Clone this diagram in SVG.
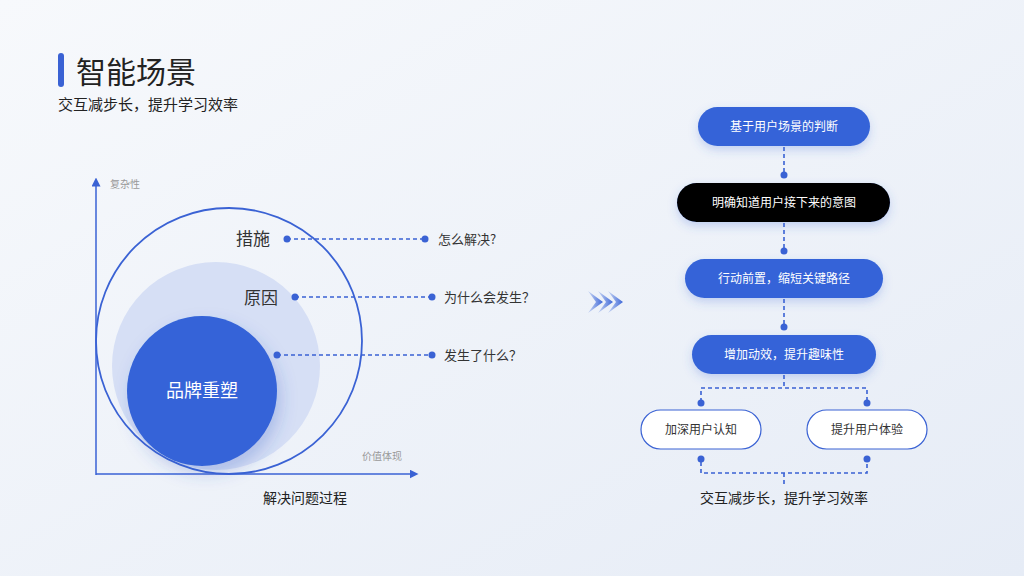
<svg xmlns="http://www.w3.org/2000/svg" width="1024" height="576" viewBox="0 0 1024 576">
<defs>
<linearGradient id="bg" x1="0" y1="0" x2="1" y2="1"><stop offset="0" stop-color="#f7f9fc"/><stop offset="1" stop-color="#e6ecf6"/></linearGradient>
<linearGradient id="chev" x1="0" x2="1"><stop offset="0" stop-color="#c9d6f3"/><stop offset="1" stop-color="#3d67d8"/></linearGradient>
<filter id="sh" x="-30%" y="-50%" width="160%" height="220%"><feDropShadow dx="0" dy="4" stdDeviation="5" flood-color="#3d67d8" flood-opacity="0.25"/></filter>
<filter id="sh2" x="-40%" y="-40%" width="180%" height="180%"><feDropShadow dx="4" dy="8" stdDeviation="8" flood-color="#3559c0" flood-opacity="0.25"/></filter>
<marker id="ar" viewBox="0 0 10 10" refX="5" refY="5" markerWidth="6" markerHeight="6" orient="auto"><path d="M0,0L10,5L0,10z" fill="#3a62d4"/></marker>
<style>
text{font-family:"Noto Sans CJK SC","Noto Sans",sans-serif}
.d{stroke:#3a62d4;stroke-width:1.6;stroke-dasharray:4 3;fill:none}
.dot{fill:#3a62d4}
.w{fill:#fff;font-size:12px;text-anchor:middle}
.q{fill:#333;font-size:13px}
.k{fill:#333;font-size:17px}
</style>
</defs>
<rect width="1024" height="576" fill="url(#bg)"/>
<rect x="58" y="53" width="6" height="34" rx="3" fill="#3a62d4"/>
<text x="76" y="83" font-size="30" fill="#222">智能场景</text>
<text x="58" y="110" font-size="15" fill="#222">交互减步长，提升学习效率</text>

<g id="axes">
<line x1="96" y1="475" x2="96" y2="182" stroke="#3a62d4" stroke-width="1.5" marker-end="url(#ar)"/>
<line x1="96" y1="474" x2="414" y2="474" stroke="#3a62d4" stroke-width="1.5" marker-end="url(#ar)"/>
<text x="110" y="188" font-size="10" fill="#999">复杂性</text>
<text x="362" y="460" font-size="10" fill="#999">价值体现</text>
<text x="263" y="503" font-size="14" fill="#222">解决问题过程</text>
</g>
<g id="circles">
<circle cx="216" cy="366" r="104" fill="#d6dff5"/>
<circle cx="229" cy="341" r="133" fill="none" stroke="#3a62d4" stroke-width="1.8"/>
<circle cx="202" cy="391" r="75" fill="#3464d8" filter="url(#sh2)"/>
<text x="202" y="397" font-size="18" fill="#fff" text-anchor="middle">品牌重塑</text>
<text x="236" y="245" class="k">措施</text>
<text x="244" y="304" class="k">原因</text>
</g>
<g id="connectors-left">
<path class="d" d="M287 239H425M295 297H432M277 355H432"/>
<circle class="dot" cx="287" cy="239" r="3.5"/><circle class="dot" cx="425" cy="239" r="3.5"/>
<circle class="dot" cx="295" cy="297" r="3.5"/><circle class="dot" cx="432" cy="297" r="3.5"/>
<circle class="dot" cx="277" cy="355" r="3.5"/><circle class="dot" cx="432" cy="355" r="3.5"/>
<text x="438" y="244" class="q">怎么解决?</text>
<text x="444" y="302" class="q">为什么会发生？</text>
<text x="444" y="360" class="q">发生了什么？</text>
</g>
<g id="chevron">
<path d="M588 291L603 302L588 313L596 302z" fill="url(#chev)"/>
<path d="M598 291L613 302L598 313L606 302z" fill="url(#chev)"/>
<path d="M608 291L623 302L608 313L616 302z" fill="url(#chev)"/>
</g>
<g id="connectors-right">
<path class="d" d="M784 147V175M784 223V251M784 299V327M784 375V388M701 402V388H867V402M701 462V473H867V462M784 473V486"/>
<circle class="dot" cx="784" cy="175" r="3.5"/><circle class="dot" cx="784" cy="251" r="3.5"/><circle class="dot" cx="784" cy="327" r="3.5"/>
<circle class="dot" cx="701" cy="403" r="3.5"/><circle class="dot" cx="867" cy="403" r="3.5"/>
<circle class="dot" cx="701" cy="459" r="3.5"/><circle class="dot" cx="867" cy="459" r="3.5"/>
</g>
<g id="n1"><rect x="698" y="107" width="172" height="39" rx="19.5" fill="#3464d8" filter="url(#sh)"/><text x="784" y="131" class="w">基于用户场景的判断</text></g>
<g id="n2"><rect x="677" y="183" width="213" height="39" rx="19.5" fill="#000" filter="url(#sh)"/><text x="784" y="207" class="w">明确知道用户接下来的意图</text></g>
<g id="n3"><rect x="685" y="259" width="198" height="39" rx="19.5" fill="#3464d8" filter="url(#sh)"/><text x="784" y="283" class="w">行动前置，缩短关键路径</text></g>
<g id="n4"><rect x="692" y="335" width="184" height="39" rx="19.5" fill="#3464d8" filter="url(#sh)"/><text x="784" y="359" class="w">增加动效，提升趣味性</text></g>
<g id="n5"><rect x="641" y="410" width="120" height="39" rx="19.5" fill="#fff" stroke="#3a62d4" stroke-width="1.2"/><text x="701" y="434" class="w" fill="#333" style="fill:#333">加深用户认知</text></g>
<g id="n6"><rect x="807" y="410" width="120" height="39" rx="19.5" fill="#fff" stroke="#3a62d4" stroke-width="1.2"/><text x="867" y="434" class="w" style="fill:#333">提升用户体验</text></g>
<text x="784" y="503" font-size="14" fill="#222" text-anchor="middle">交互减步长，提升学习效率</text>
</svg>
